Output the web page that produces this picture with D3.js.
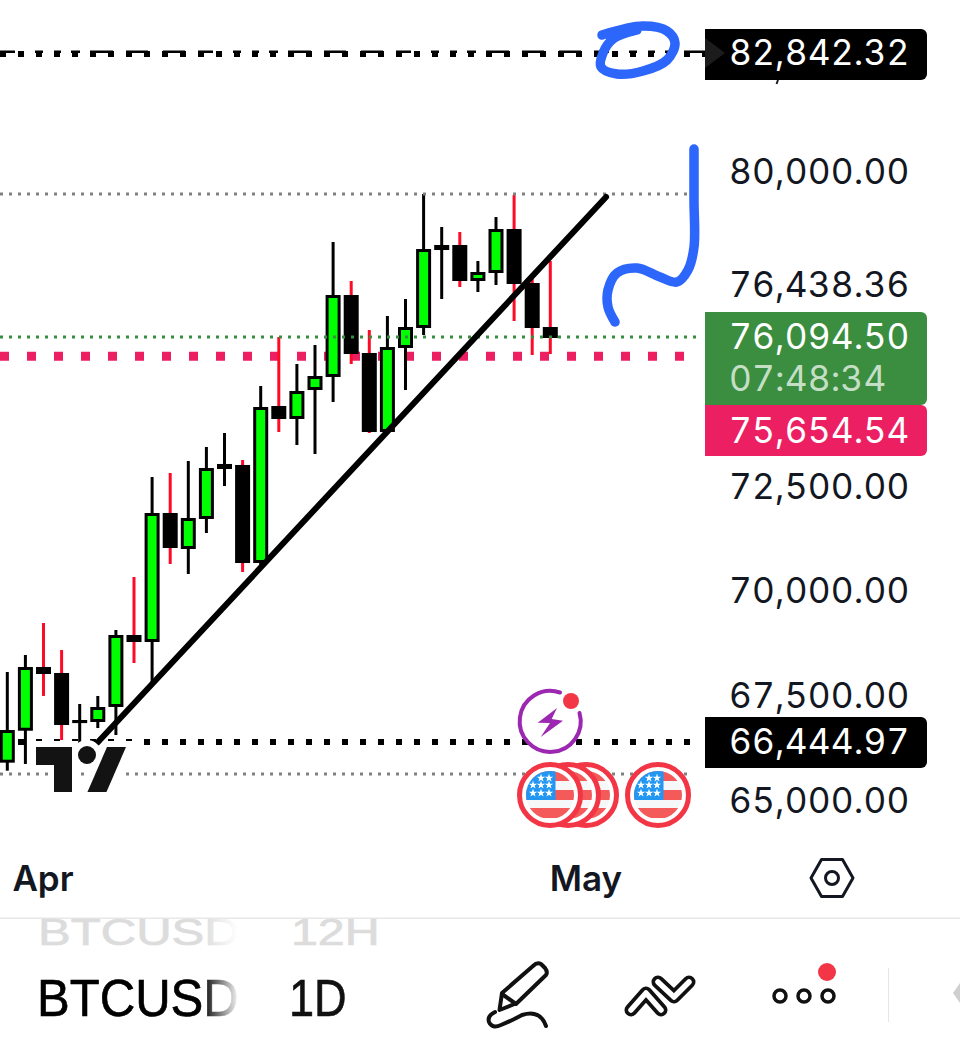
<!DOCTYPE html>
<html><head><meta charset="utf-8">
<script src="https://cdn.jsdelivr.net/npm/d3@7"></script>
<style>html,body{margin:0;padding:0;background:#fff}svg{display:block}text{font-variant-numeric:tabular-nums}</style>
</head><body><svg id="c" width="960" height="1043"></svg>
<script>
const days=["Mar 30","Mar 31","Apr 1","Apr 2","Apr 3","Apr 4","Apr 5","Apr 6","Apr 7","Apr 8","Apr 9","Apr 10","Apr 11","Apr 12","Apr 13","Apr 14","Apr 15","Apr 16","Apr 17","Apr 18","Apr 19","Apr 20","Apr 21","Apr 22","Apr 23","Apr 24","Apr 25","Apr 26","Apr 27","Apr 28","Apr 29","Apr 30","May 1"];
const opens =[65940,66702,68222,68079,66886,66910,67268,68985,68818,71895,71036,71752,72944,73040,70702,74447,74137,74828,75139,77094,75711,73827,75830,76307,78167,78287,77428,77619,78668,77380,76331];
const highs =[68103,68508,69271,68627,67340,67531,69105,70368,72753,72849,73135,73469,73803,73159,74924,76092,75449,75902,78358,77428,76260,76593,76999,79503,78716,78597,77905,78954,79479,77571,77905];
const lows  =[65749,65909,67531,66481,66409,66767,66600,68317,67793,70679,70440,71418,72539,70488,70631,73827,73517,73302,74542,75449,73803,73827,74828,76140,76999,77285,77166,77333,76474,75663,75687];
const closes=[66719,68222,68055,66839,66958,67268,68985,68818,71895,71060,71776,72968,73064,70702,74423,74137,74805,75162,77094,75687,73827,75854,76331,78191,78287,77428,77643,78668,77357,76307,76069];
const axisPrices=[65000,67500,70000,72500,80000];
const lastPrice=76094.50, prePrice=75654.54, upperLevel=82842.32, lowerLevel=66444.97, midLabel=76438.36;
const rangeHigh=79503, rangeLow=65670;
const trendDays=[4.96,33.08], trendPrices=[66409,79431];
const countdown="07:48:34";
const FONT="Inter, 'Noto Sans', sans-serif", INK="#131722";

const svg=d3.select("#c");
const defs=svg.append("defs");
const x=d3.scaleLinear().domain([0,32]).range([7.3,7.3+32*18.1]);
const y=d3.scaleLinear().domain([lowerLevel,upperLevel]).range([741.5,54]);
const W=695;

function hline(p,o){
  return svg.append("path").attr("d",d3.line()([[o.x0||0,y(p)+(o.dy||0)],[o.x1||W,y(p)+(o.dy||0)]]))
    .attr("fill","none").attr("stroke",o.c).attr("stroke-width",o.w)
    .attr("stroke-dasharray",o.d).attr("stroke-dashoffset",o.off||0);
}
hline(prePrice,{c:"#ec1f63",w:9,d:"9 18",x1:686,dy:1});
hline(upperLevel,{c:"#000",w:6,d:"6 12",x1:705});
hline(upperLevel,{c:"#000",w:2.5,d:"15 20 8 11 7 10 9 10 23 13 22 15 22 13",x1:705,dy:-2.2});
hline(lowerLevel,{c:"#000",w:6,d:"6 12",x1:693,dy:.5});
hline(rangeLow,{c:"#808080",w:3,d:"3 6",x1:693});

const idx=d3.range(opens.length);
const RED="#ff0a26",GREEN="#00ff00";
const cg=svg.append("g");
cg.selectAll("path.w").data(idx).join("path").attr("class","w")
  .attr("d",i=>d3.line()([[x(i),y(highs[i])],[x(i),y(lows[i])]]))
  .attr("stroke",i=>closes[i]>=opens[i]?"#000":RED).attr("stroke-width",3);
cg.selectAll("rect").data(idx).join("rect")
  .each(function(i){
    const t=y(Math.max(opens[i],closes[i])),b=y(Math.min(opens[i],closes[i])),up=closes[i]>=opens[i];
    d3.select(this).attr("x",x(i)-6).attr("y",t+1.5).attr("width",12).attr("height",Math.max(b-t-3,0.1))
      .attr("fill",up?GREEN:"#000").attr("stroke","#000").attr("stroke-width",3);
  });

const scribble=d3.line().curve(d3.curveCatmullRom.alpha(.5));
svg.append("path").attr("d",scribble([[694,149],[694,200],[694,247],[688,270],[677,282],[660,277],[637,268],[617,273],[608,290],[608,307],[615,322]]))
  .attr("fill","none").attr("stroke","#2d66fb").attr("stroke-width",9.5).attr("stroke-linecap","round");
svg.append("path").attr("d",scribble([[602,35],[643,26],[667,31],[675,43],[667,60],[643,71],[617,74],[601,67],[603,53],[613,39],[637,30]]))
  .attr("fill","none").attr("stroke","#2d66fb").attr("stroke-width",9.5).attr("stroke-linecap","round");

hline(rangeHigh,{c:"#808080",w:3,d:"3 6",x1:693});
hline(lastPrice,{c:"#388e3c",w:3,d:"3 6",x1:697});

svg.append("path").attr("d",d3.line()(trendDays.map((d,i)=>[x(d),y(trendPrices[i])])))
  .attr("stroke","#000").attr("stroke-width",6).attr("stroke-linecap","round");

const clip=defs.append("clipPath").attr("id","logoClip");
clip.append("rect").attr("x",0).attr("y",700).attr("width",200).attr("height",92);
svg.append("rect").attr("x",0).attr("y",792).attr("width",700).attr("height",125).attr("fill","#fff");
const logo=svg.append("g").attr("clip-path","url(#logoClip)");
const logoShapes=g=>{
  g.append("path").attr("d","M36 747H72V800H54V765H36Z");
  g.append("circle").attr("cx",87).attr("cy",755).attr("r",9);
  g.append("path").attr("d","M107 747H126L103 800H84Z");
};
logo.call(g=>{const h=g.append("g").attr("fill","#fff").attr("stroke","#fff").attr("stroke-width",12);logoShapes(h);});
logo.call(g=>{const h=g.append("g").attr("fill","#131313");logoShapes(h);});

const evt=svg.append("g");
evt.append("circle").attr("cx",550).attr("cy",721.7).attr("r",31).attr("fill","#fff");
evt.append("path").attr("d","M560 692.5A30.5 30.5 0 1 0 579.5 713").attr("fill","none").attr("stroke","#9c27b0").attr("stroke-width",4).attr("stroke-linecap","round");
evt.append("path").attr("d","M537.7 722.7L557 708L551.7 719L563 720.7L540.7 737L550 723Z").attr("fill","#9c27b0");
evt.append("circle").attr("cx",571).attr("cy",701).attr("r",8).attr("fill","#f23645");
const star=d3.symbol().type(d3.symbolStar).size(22)();
const starPos=[[-9,-17],[-1,-17],[-17,-10],[-9,-10],[-1,-10],[-17,-2],[-9,-2],[-1,-2]];
const bands=[[-24,-14],[-5,5],[13,23]];
function flag(cx,cy,id){
  const g=svg.append("g").attr("transform",`translate(${cx},${cy})`);
  defs.append("clipPath").attr("id",id).append("circle").attr("r",24);
  g.append("circle").attr("r",30.5).attr("fill","#fff").attr("stroke","#f23645").attr("stroke-width",5);
  const f=g.append("g").attr("clip-path",`url(#${id})`);
  f.append("rect").attr("x",-24).attr("y",-24).attr("width",48).attr("height",48).attr("fill","#f6f7f9");
  bands.forEach(b=>f.append("rect").attr("x",-24).attr("y",b[0]).attr("width",48).attr("height",b[1]-b[0]).attr("fill","#f55a5a"));
  f.append("rect").attr("x",-24).attr("y",-24).attr("width",29.5).attr("height",29).attr("fill","#2196f3");
  starPos.forEach(p=>f.append("path").attr("d",star).attr("fill","#fff").attr("transform",`translate(${p[0]},${p[1]})`));
}
flag(586,795,"f3");flag(568,795,"f2");flag(550,795,"f1");flag(658,795,"f4");

const FS=35.2, LS=.2;
const yAxis=d3.axisRight(y).tickValues(axisPrices).tickSize(0).tickPadding(0).tickFormat(d3.format(",.2f"));
const ya=svg.append("g").attr("transform","translate(729,0)").call(yAxis);
ya.select(".domain").remove();
ya.selectAll("text").attr("font-family",FONT).attr("font-size",FS).attr("fill",INK).attr("dy",10.5).attr("letter-spacing",LS);
const lab=(t,px,c)=>svg.append("text").attr("x",729).attr("y",px+13).attr("font-family",FONT).attr("font-size",FS).attr("letter-spacing",LS).attr("fill",c).text(t);
lab(d3.format(",.2f")(midLabel),y(midLabel)-39,INK);

function tag(top,h,fill){
  svg.append("path").attr("d",`M705 ${top}H921a6 6 0 0 1 6 6V${top+h-6}a6 6 0 0 1 -6 6H705Z`).attr("fill",fill);
}
svg.append("path").attr("d","M778 80L776.5 84").attr("stroke",INK).attr("stroke-width",2);
tag(29,51,"#000");
svg.append("path").attr("d","M705 38L725 53L705 68Z").attr("fill","#1c1c1c");
lab(d3.format(",.2f")(upperLevel),y(upperLevel)-2,"#fff");
tag(312,93,"#3b8e40");
lab(d3.format(",.2f")(lastPrice),336,"#fff");
lab(countdown,378,"#c5dfc7");
tag(405,51,"#ec1f63");
lab(d3.format(",.2f")(prePrice),430,"#fff");
tag(717,51,"#000");
lab(d3.format(",.2f")(lowerLevel),741,"#fff");

const xAxis=d3.axisBottom(x).tickValues([2,32]).tickSize(0).tickPadding(0).tickFormat(i=>days[i].slice(0,3));
const xa=svg.append("g").attr("transform","translate(0,879)").call(xAxis);
xa.select(".domain").remove();
xa.selectAll("text").attr("font-family",FONT).attr("font-size",35).attr("font-weight",600).attr("fill",INK).attr("dy",12).attr("dx",-1).attr("text-anchor","middle");

svg.append("path").attr("d","M811 878L821.5 859.5H842.5L853 878L842.5 896.5H821.5Z").attr("fill","none").attr("stroke",INK).attr("stroke-width",3).attr("stroke-linejoin","round");
svg.append("circle").attr("cx",832).attr("cy",878).attr("r",6.5).attr("fill","none").attr("stroke",INK).attr("stroke-width",3);

svg.append("rect").attr("x",0).attr("y",917.5).attr("width",960).attr("height",1.5).attr("fill","#e8e8e8");
// the gradients are in the text's own scaled space, which starts at the text's left edge
const grad=defs.append("linearGradient").attr("id","fade").attr("gradientUnits","userSpaceOnUse").attr("x1",176).attr("x2",214).attr("y1",0).attr("y2",0);
grad.append("stop").attr("offset",0).attr("stop-color","#000");
grad.append("stop").attr("offset",1).attr("stop-color","#eee");
const grad2=defs.append("linearGradient").attr("id","fade2").attr("gradientUnits","userSpaceOnUse").attr("x1",176).attr("x2",214).attr("y1",0).attr("y2",0);
grad2.append("stop").attr("offset",0).attr("stop-color","#dcdcdc");
grad2.append("stop").attr("offset",1).attr("stop-color","#fff");
const BF="'Liberation Sans', Arial, sans-serif";
const bottomText=(t,tx,ty,sx,sy,fill,lw)=>svg.append("text").attr("transform",`translate(${tx},${ty}) scale(${sx},${sy})`)
  .attr("font-family",BF).attr("font-size",52.5).attr("fill",fill).attr("stroke",lw?fill:"none").attr("stroke-width",lw||0).text(t);
bottomText("BTCUSD",38,945,.935,.71,"url(#fade2)",1);
bottomText("12H",291,945,.92,.71,"#dcdcdc",1);
bottomText("BTCUSD",37,1016,.935,1,"url(#fade)",.6);
bottomText("1D",289,1016,.86,1,"#111",.6);

const ic=svg.append("g").attr("fill","none").attr("stroke","#111").attr("stroke-width",4).attr("stroke-linecap","round").attr("stroke-linejoin","round");
ic.append("path").attr("d","M499.5 1010L502 993L533 966Q537 962 541 964L545 968Q548 972 546 975L517 1003Z");
ic.append("path").attr("d","M502 994L516 1004");
ic.append("path").attr("d","M495 1012Q487 1016 489 1022Q492 1029 501 1025Q513 1020 522 1015Q540 1009 546 1026");
const chev=[[[631,1010],[646,993],[661,1010]],[[658,982],[674,997],[689,982]]];
chev.forEach(c=>{
  svg.append("path").attr("d",d3.line()(c)).attr("fill","none").attr("stroke","#111").attr("stroke-width",13).attr("stroke-linecap","round").attr("stroke-linejoin","round");
  svg.append("path").attr("d",d3.line()(c)).attr("fill","none").attr("stroke","#fff").attr("stroke-width",5.5).attr("stroke-linecap","round").attr("stroke-linejoin","round");
});
[780,804,828].forEach(cx=>ic.append("circle").attr("cx",cx).attr("cy",996).attr("r",6).attr("stroke-width",3.5));
svg.append("circle").attr("cx",827).attr("cy",972).attr("r",9).attr("fill","#f23645");
svg.append("rect").attr("x",888).attr("y",968).attr("width",1).attr("height",54).attr("fill","#e6e6e6");
svg.append("path").attr("d","M960 983L953 993L960 1003Z").attr("fill","#cfcfcf");
</script></body></html>
